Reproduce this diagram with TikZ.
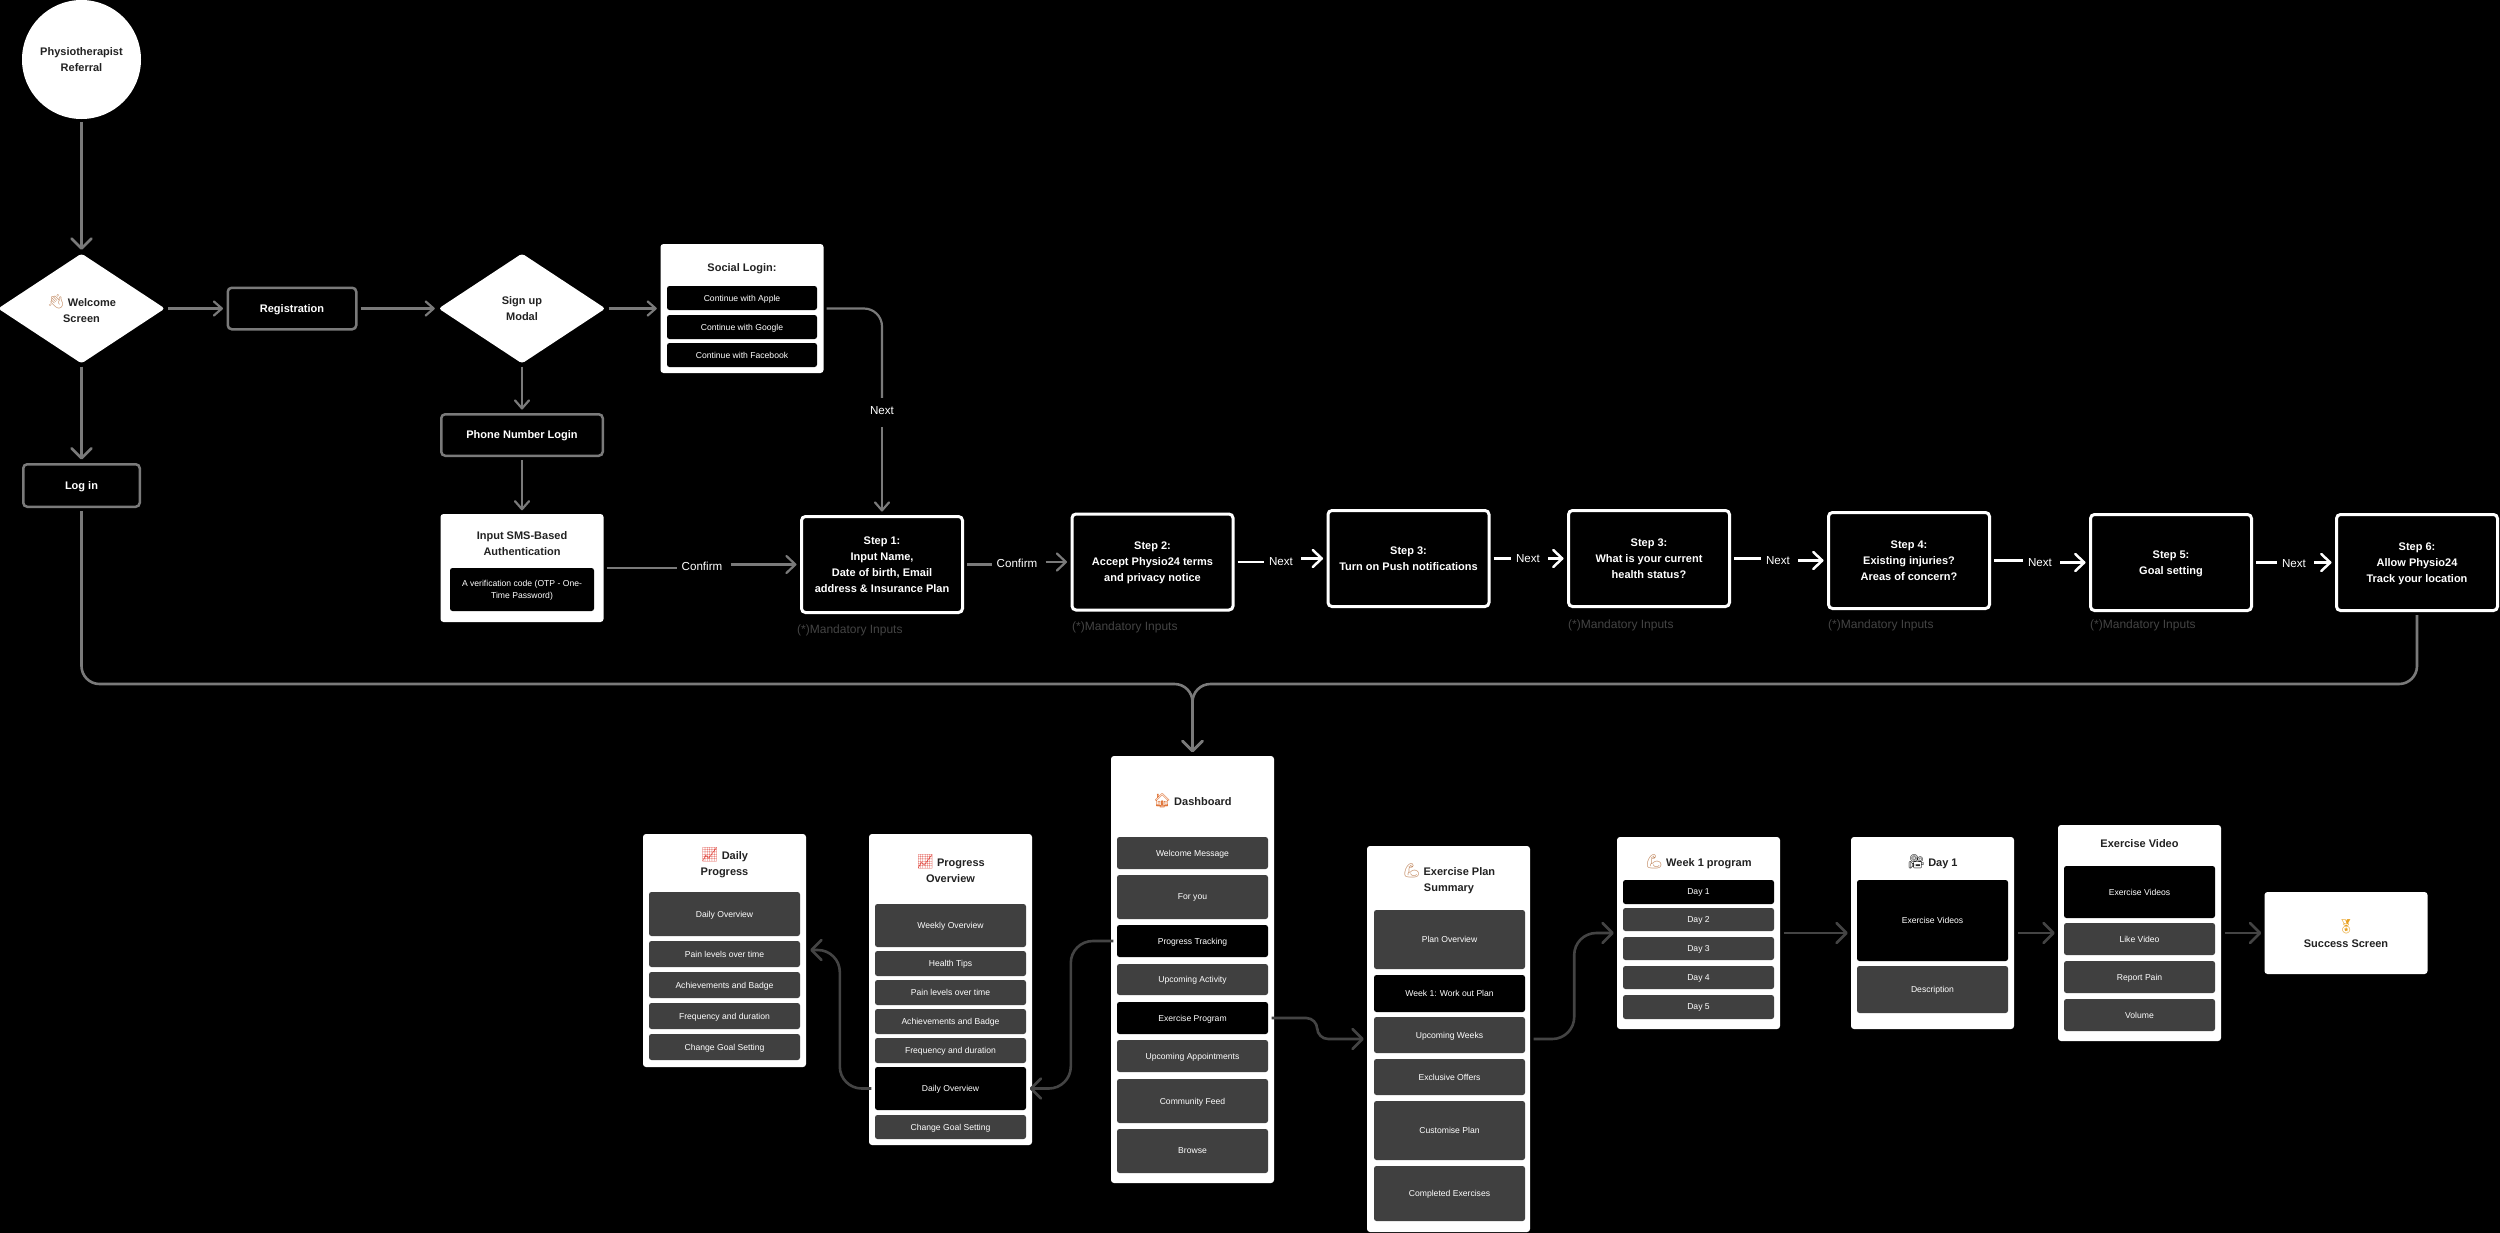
\documentclass[tikz,border=0pt]{standalone}
\usepackage{xcolor}
\usepackage{fontspec}
\setmainfont{Liberation Sans}
\newfontfamily\emojifont{Noto Emoji}
\definecolor{linegray}{RGB}{122, 122, 122}
\definecolor{linedark}{RGB}{ 68,  68,  68}
\definecolor{itemgray}{RGB}{ 64,  64,  64}
\definecolor{titleink}{RGB}{ 34,  34,  34}
\definecolor{handtone}{RGB}{190, 128,  84}
\definecolor{housetone}{RGB}{224, 118,  58}
\definecolor{charttone}{RGB}{226,  82,  74}
\definecolor{medaltone}{RGB}{232, 160,  32}
\newcommand{\emblem}[2]{{\emojifont\fontsize{14}{16}\selectfont\color{#1}#2}}
\usetikzlibrary{
  shapes.geometric,
  arrows.meta, positioning
}
\tikzset{
  headtext/.style={font=\fontsize{11}{16}\selectfont\bfseries, text depth=0pt},
  smalltext/.style={font=\fontsize{8.6}{11.5}\selectfont, text depth=0pt},
  bubble/.style={circle, fill=white, text=titleink, headtext, align=center, inner sep=0pt, minimum size=119pt},
  decision/.style={diamond, fill=white, text=titleink, headtext, align=center, inner sep=0pt, aspect=1.52, minimum width=167pt, minimum height=110pt, rounded corners=3pt},
  grayframe/.style={draw=linegray, line width=2.5pt, fill=black, text=white, headtext, align=center, rounded corners=4pt, inner sep=0pt},
  stepbox/.style={draw=white, line width=3pt, fill=black, text=white, headtext, align=center, rounded corners=4pt, inner sep=0pt, minimum width=161pt, minimum height=96pt},
  card/.style={fill=white, rounded corners=3pt, inner sep=0pt, minimum width=163pt},
  cardtitle/.style={text=titleink, headtext, align=center, inner sep=0pt},
  itemgray/.style={fill=itemgray, text=white, smalltext, align=center, rounded corners=2.5pt, inner sep=0pt, minimum width=151pt},
  itemblack/.style={itemgray, fill=black},
  linklabel/.style={text=white, font=\fontsize{11.6}{14}\selectfont, text depth=0pt, inner xsep=5pt, inner ysep=0pt, minimum height=26pt},
  mandatory/.style={text=linedark, font=\fontsize{12}{14}\selectfont, text depth=0pt, inner sep=0pt, anchor=west},
  smallbarb/.style={-{Straight Barb[length=8pt, width=14pt, round]}},
  midbarb/.style={-{Straight Barb[length=9pt, width=17pt, round]}},
  bigbarb/.style={-{Straight Barb[length=10pt, width=20pt, round]}},
  grayline/.style={draw=linegray, line width=2.2pt, shorten <=3pt},
  whiteline/.style={draw=white, line width=2.5pt, shorten <=3pt},
  darkline/.style={draw=linedark, line width=2.6pt, shorten <=3.5pt},
  grayarrow/.style={grayline, smallbarb, shorten >=3.5pt},
  heavyarrow/.style={grayline, bigbarb, line width=2.6pt, shorten >=3.5pt},
  confirmarrow/.style={grayline, midbarb, shorten >=3.5pt},
  whitearrow/.style={whiteline, midbarb, shorten >=3.5pt},
  darkarrow/.style={darkline, bigbarb, shorten >=3pt}
}

\begin{document}
\begin{tikzpicture}[x=1pt, y=-1pt]
    \useasboundingbox (0,0) rectangle (2500,1232);
    \fill[black] (-5,-5) rectangle (2505,1240);

    \node[bubble] (referral) at (81.5,59.5) {Physiotherapist\\Referral};
    \node[decision] (welcome) at (81.5,308.5) {\emblem{handtone}{👋} Welcome\\Screen};
    \node[grayframe, minimum width=128.5pt, minimum height=41.5pt] (registration) at (292,308.5) {Registration};
    \node[decision] (signup) at (522,308.5) {Sign up\\Modal};
    \node[grayframe, minimum width=116.5pt, minimum height=42.5pt] (login) at (81.5,485.5) {Log in};
    \node[grayframe, minimum width=161.5pt, minimum height=41.5pt] (phone) at (522,435) {Phone Number Login};

    \node[card, minimum height=129pt] (social) at (742,308.5) {};
    \node[cardtitle] (socialtitle) at (742,268) {Social Login:};
    \node[itemblack, minimum width=150pt, minimum height=24pt] (apple) at (742,298) {Continue with Apple};
    \node[itemblack, minimum width=150pt, minimum height=24pt] (google) at (742,327) {Continue with Google};
    \node[itemblack, minimum width=150pt, minimum height=24pt] (facebook) at (742,355) {Continue with Facebook};

    \node[card, minimum height=108pt] (sms) at (522,568) {};
    \node[cardtitle] (smstitle) at (522,544) {Input SMS-Based\\Authentication};
    \node[itemblack, minimum width=144pt, minimum height=43pt] (otp) at (522,589.5) {A verification code (OTP - One-\\Time Password)};

    \node[stepbox] (step1) at (882,564.5) {Step 1:\\Input Name,\\Date of birth, Email\\address \& Insurance Plan};
    \node[stepbox] (step2) at (1152.5,562) {Step 2:\\Accept Physio24 terms\\and privacy notice};
    \node[stepbox] (step3) at (1408.5,558.5) {Step 3:\\Turn on Push notifications};
    \node[stepbox] (health) at (1649,558.5) {Step 3:\\What is your current\\health status?};
    \node[stepbox] (step4) at (1909,560.5) {Step 4:\\Existing injuries?\\Areas of concern?};
    \node[stepbox] (step5) at (2171,562.5) {Step 5:\\Goal setting};
    \node[stepbox] (step6) at (2417,562.5) {Step 6:\\Allow Physio24\\Track your location};

    \node[mandatory] (mand1) at (797,629) {(*)Mandatory Inputs};
    \node[mandatory] (mand2) at (1072,626) {(*)Mandatory Inputs};
    \node[mandatory] (mand3) at (1568,624) {(*)Mandatory Inputs};
    \node[mandatory] (mand4) at (1828,624) {(*)Mandatory Inputs};
    \node[mandatory] (mand5) at (2090,624) {(*)Mandatory Inputs};

    \node[linklabel] (nextsocial) at (882,411) {Next};
    \node[linklabel] (confirm1) at (702,566) {Confirm};
    \node[linklabel] (confirm2) at (1017,563) {Confirm};
    \node[linklabel] (next1) at (1281,561) {Next};
    \node[linklabel] (next2) at (1528,558) {Next};
    \node[linklabel] (next3) at (1778,560) {Next};
    \node[linklabel] (next4) at (2040,562) {Next};
    \node[linklabel] (next5) at (2294,563) {Next};

    \node[card, minimum height=427pt] (dashboard) at (1192.5,969.5) {};
    \node[cardtitle] (dashtitle) at (1192.5,800) {\emblem{housetone}{🏠} Dashboard};
    \node[itemgray, minimum height=32pt] (dwelcome) at (1192.5,853) {Welcome Message};
    \node[itemgray, minimum height=44pt] (dforyou) at (1192.5,897) {For you};
    \node[itemblack, minimum height=32pt] (dtracking) at (1192.5,941) {Progress Tracking};
    \node[itemgray, minimum height=31pt] (dactivity) at (1192.5,979.5) {Upcoming Activity};
    \node[itemblack, minimum height=32pt] (dprogram) at (1192.5,1018) {Exercise Program};
    \node[itemgray, minimum height=32pt] (dappts) at (1192.5,1056) {Upcoming Appointments};
    \node[itemgray, minimum height=44pt] (dfeed) at (1192.5,1101) {Community Feed};
    \node[itemgray, minimum height=44pt] (dbrowse) at (1192.5,1151) {Browse};

    \node[card, minimum height=311pt] (overview) at (950.5,989.5) {};
    \node[cardtitle] (overtitle) at (950.5,869) {\emblem{charttone}{📈} Progress\\Overview};
    \node[itemgray, minimum height=43pt] (oweekly) at (950.5,925.5) {Weekly Overview};
    \node[itemgray, minimum height=25pt] (otips) at (950.5,963.5) {Health Tips};
    \node[itemgray, minimum height=25pt] (opain) at (950.5,992.5) {Pain levels over time};
    \node[itemgray, minimum height=25pt] (obadge) at (950.5,1021.5) {Achievements and Badge};
    \node[itemgray, minimum height=25pt] (ofreq) at (950.5,1050.5) {Frequency and duration};
    \node[itemblack, minimum height=43pt] (odaily) at (950.5,1088.5) {Daily Overview};
    \node[itemgray, minimum height=24pt] (ogoal) at (950.5,1127) {Change Goal Setting};

    \node[card, minimum height=233pt] (daily) at (724.5,950.5) {};
    \node[cardtitle] (dailytitle) at (724.5,862) {\emblem{charttone}{📈} Daily\\Progress};
    \node[itemgray, minimum height=44pt] (pdaily) at (724.5,914) {Daily Overview};
    \node[itemgray, minimum height=26pt] (ppain) at (724.5,954) {Pain levels over time};
    \node[itemgray, minimum height=26pt] (pbadge) at (724.5,985) {Achievements and Badge};
    \node[itemgray, minimum height=26pt] (pfreq) at (724.5,1016) {Frequency and duration};
    \node[itemgray, minimum height=26pt] (pgoal) at (724.5,1047) {Change Goal Setting};

    \node[card, minimum height=386pt] (plan) at (1448.5,1039) {};
    \node[cardtitle] (plantitle) at (1449,877.5) {\emblem{handtone}{💪} Exercise Plan\\Summary};
    \node[itemgray, minimum height=59pt] (eoverview) at (1449.5,939.5) {Plan Overview};
    \node[itemblack, minimum height=37pt] (eweek) at (1449.5,993.5) {Week 1: Work out Plan};
    \node[itemgray, minimum height=36pt] (eupcoming) at (1449.5,1035) {Upcoming Weeks};
    \node[itemgray, minimum height=36pt] (eoffers) at (1449.5,1077) {Exclusive Offers};
    \node[itemgray, minimum height=59pt] (ecustom) at (1449.5,1130.5) {Customise Plan};
    \node[itemgray, minimum height=55pt] (edone) at (1449.5,1193.5) {Completed Exercises};

    \node[card, minimum height=192pt] (week) at (1698.5,933) {};
    \node[cardtitle] (weektitle) at (1698.5,861) {\emblem{handtone}{💪} Week 1 program};
    \node[itemblack, minimum height=24pt] (wday1) at (1698.5,892) {Day 1};
    \node[itemgray, minimum height=23pt] (wday2) at (1698.5,919.5) {Day 2};
    \node[itemgray, minimum height=23pt] (wday3) at (1698.5,948.5) {Day 3};
    \node[itemgray, minimum height=23pt] (wday4) at (1698.5,977.5) {Day 4};
    \node[itemgray, minimum height=24pt] (wday5) at (1698.5,1007) {Day 5};

    \node[card, minimum height=192pt] (day) at (1932.5,933) {};
    \node[cardtitle] (daytitle) at (1932.5,861) {\emblem{titleink}{🎥} Day 1};
    \node[itemblack, minimum height=81pt] (dvideos) at (1932.5,920.5) {Exercise Videos};
    \node[itemgray, minimum height=47pt] (ddesc) at (1932.5,989.5) {Description};

    \node[card, minimum height=216pt] (video) at (2139.5,933) {};
    \node[cardtitle] (videotitle) at (2139.5,844) {Exercise Video};
    \node[itemblack, minimum height=52pt] (vvideos) at (2139.5,892) {Exercise Videos};
    \node[itemgray, minimum height=32pt] (vlike) at (2139.5,939) {Like Video};
    \node[itemgray, minimum height=32pt] (vreport) at (2139.5,977) {Report Pain};
    \node[itemgray, minimum height=32pt] (vvolume) at (2139.5,1015) {Volume};

    \node[card, minimum height=82pt] (success) at (2346,933) {};
    \node[cardtitle] (successtitle) at (2346,934) {\emblem{medaltone}{🏅}\\Success Screen};

    \coordinate (merge) at (1192.5,684);

    \draw[heavyarrow] (referral) -- (welcome);
    \draw[grayarrow] (welcome) -- (registration);
    \draw[grayarrow] (registration) -- (signup);
    \draw[grayarrow] (signup) -- (social);
    \draw[heavyarrow] (welcome) -- (login);
    \draw[grayarrow] (signup) -- (phone);
    \draw[grayarrow] (phone) -- (sms);
    \draw[grayline, rounded corners=18pt] (social.east) -| (nextsocial.north);
    \draw[grayarrow] (nextsocial.south) -- (step1.north);
    \draw[grayline] (sms.east) -- (sms.east -| confirm1.west);
    \draw[confirmarrow] (confirm1.east |- step1.west) -- (step1.west);
    \draw[grayline] (step1.east) -- (step1.east -| confirm2.west);
    \draw[confirmarrow] (confirm2.east |- step2.west) -- (step2.west);
    \draw[whiteline] (step2.east) -- (step2.east -| next1.west);
    \draw[whitearrow] (next1.east |- step3.west) -- (step3.west);
    \draw[whiteline] (step3.east) -- (step3.east -| next2.west);
    \draw[whitearrow] (next2.east |- health.west) -- (health.west);
    \draw[whiteline] (health.east) -- (health.east -| next3.west);
    \draw[whitearrow] (next3.east |- step4.west) -- (step4.west);
    \draw[whiteline] (step4.east) -- (step4.east -| next4.west);
    \draw[whitearrow] (next4.east |- step5.west) -- (step5.west);
    \draw[whiteline] (step5.east) -- (step5.east -| next5.west);
    \draw[whitearrow] (next5.east |- step6.west) -- (step6.west);

    \draw[heavyarrow, rounded corners=18pt] (login.south) |- (merge) -- (dashboard.north);
    \draw[heavyarrow, rounded corners=18pt] (step6.south) |- (merge) -- (dashboard.north);

    \draw[darkarrow, shorten >=3.5pt, rounded corners=22pt] (dtracking.west) -- ++(-46,0) |- (odaily.east);
    \draw[darkarrow, shorten >=10pt, rounded corners=22pt] (odaily.west) -- ++(-35,0) |- ([yshift=4pt]ppain.east);
    \draw[darkarrow, shorten >=10pt, rounded corners=11pt] (dprogram.east) -- ++(49,0) |- ([yshift=-4pt]eupcoming.west);
    \draw[darkarrow, rounded corners=22pt] (plan.east) -- ++(44,0) |- (week.west);
    \draw[darkarrow] (week) -- (day);
    \draw[darkarrow] (day) -- (video);
    \draw[darkarrow] (video) -- (success);
\end{tikzpicture}
\end{document}
